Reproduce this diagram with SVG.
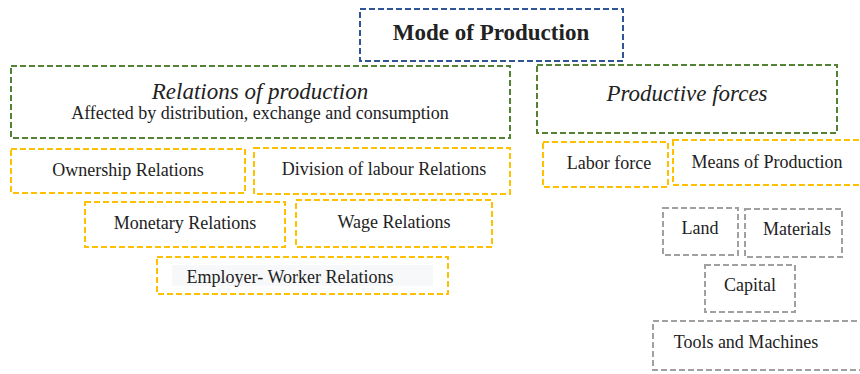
<svg xmlns="http://www.w3.org/2000/svg" width="860" height="374" viewBox="0 0 860 374">
<style>
rect.b{fill:none;stroke-width:2;stroke-dasharray:6,3}
.blue{stroke:#2F5597}
.green{stroke:#548235}
.yel{stroke:#FFC000}
.gray{stroke:#A0A0A0}
text{font-family:"Liberation Serif","Times New Roman",serif;fill:#222;text-anchor:middle;font-size:18px}
.it{font-style:italic;font-size:23px}
.bold{font-weight:bold;font-size:23px}
</style>
<rect width="860" height="374" fill="#fff"/>
<g id="mode"><rect class="b blue" x="360" y="9" width="263" height="52"/><text class="bold" x="491" y="40">Mode of Production</text></g>
<g id="relations"><rect class="b green" x="11" y="66" width="499" height="72"/><text class="it" x="260" y="99">Relations of production</text><text x="260" y="119">Affected by distribution, exchange and consumption</text></g>
<g id="forces"><rect class="b green" x="537" y="65" width="300" height="68"/><text class="it" x="687" y="101">Productive forces</text></g>
<g id="labor"><rect class="b yel" x="543" y="142" width="125" height="45"/><text x="609" y="169">Labor force</text></g>
<g id="means"><rect class="b yel" x="673" y="140" width="192" height="45"/><text x="767" y="168">Means of Production</text></g>
<g id="ownership"><rect class="b yel" x="11" y="149" width="234" height="44"/><text x="128" y="176">Ownership Relations</text></g>
<g id="division"><rect class="b yel" x="254" y="148" width="256" height="46"/><text x="384" y="175">Division of labour Relations</text></g>
<g id="monetary"><rect class="b yel" x="85" y="202" width="200" height="45"/><text x="185" y="229">Monetary Relations</text></g>
<g id="wage"><rect class="b yel" x="296" y="200" width="196" height="47"/><text x="394" y="228">Wage Relations</text></g>
<g id="employer"><rect class="b yel" x="157" y="257" width="291" height="37"/><rect x="172" y="265" width="261" height="21" fill="#F7F8F9"/><text x="290" y="283">Employer- Worker Relations</text></g>
<g id="land"><rect class="b gray" x="663" y="208" width="75" height="47"/><text x="700" y="234">Land</text></g>
<g id="materials"><rect class="b gray" x="745" y="209" width="97" height="48"/><text x="797" y="235">Materials</text></g>
<g id="capital"><rect class="b gray" x="705" y="265" width="90" height="47"/><text x="750" y="291">Capital</text></g>
<g id="tools"><rect class="b gray" x="653" y="321" width="212" height="49"/><text x="746" y="348">Tools and Machines</text></g>
<g id="connectors"></g>
</svg>
